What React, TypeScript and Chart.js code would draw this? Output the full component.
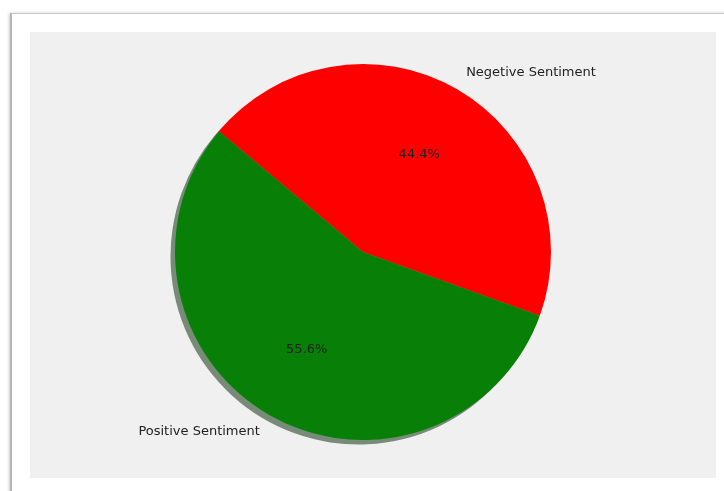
import React, { useEffect, useRef } from "react";
import { Chart, registerables } from "chart.js";

Chart.register(...registerables);

const labels = ["Negetive Sentiment", "Positive Sentiment"];
const values = [44.4, 55.6];
const colors = ["#ff0000", "#088008"];
const shadowColors = ["rgba(77,0,0,0.5)", "rgba(0,38,0,0.5)"];

const shadowPlugin = {
  id: "pieShadow",
  beforeDatasetsDraw(chart: any) {
    const ctx = chart.ctx;
    const meta = chart.getDatasetMeta(0);
    ctx.save();
    meta.data.forEach((arc: any, i: number) => {
      const { x, y, startAngle, endAngle, outerRadius } = arc.getProps(
        ["x", "y", "startAngle", "endAngle", "outerRadius"],
        true
      );
      ctx.beginPath();
      ctx.moveTo(x - 4.5, y + 4.5);
      ctx.arc(x - 4.5, y + 4.5, outerRadius, startAngle, endAngle);
      ctx.closePath();
      ctx.fillStyle = shadowColors[i];
      ctx.fill();
    });
    ctx.restore();
  },
};

const labelPlugin = {
  id: "pieLabels",
  afterDatasetsDraw(chart: any) {
    const ctx = chart.ctx;
    const meta = chart.getDatasetMeta(0);
    const total = values.reduce((a, b) => a + b, 0);
    ctx.save();
    ctx.font = "13px 'DejaVu Sans'";
    ctx.fillStyle = "#222222";
    ctx.textBaseline = "middle";
    meta.data.forEach((arc: any, i: number) => {
      const { x, y, startAngle, endAngle, outerRadius } = arc.getProps(
        ["x", "y", "startAngle", "endAngle", "outerRadius"],
        true
      );
      const mid = (startAngle + endAngle) / 2;
      const c = Math.cos(mid);
      const s = Math.sin(mid);
      const lx = x + c * outerRadius * 1.1;
      const ly = y + s * outerRadius * 1.1;
      ctx.textAlign = c >= 0 ? "left" : "right";
      ctx.fillText(labels[i], lx, ly);
      const px = x + c * outerRadius * 0.6;
      const py = y + s * outerRadius * 0.6;
      ctx.textAlign = "center";
      ctx.fillText(((values[i] / total) * 100).toFixed(1) + "%", px, py);
    });
    ctx.restore();
  },
};

export default function App() {
  const ref = useRef<HTMLCanvasElement>(null);
  useEffect(() => {
    if (!ref.current) return;
    const chart = new Chart(ref.current, {
      type: "pie",
      data: {
        labels,
        datasets: [
          {
            data: values,
            backgroundColor: colors,
            borderWidth: 0,
          },
        ],
      },
      options: {
        animation: false,
        responsive: false,
        rotation: -50,
        layout: { padding: { top: 32, bottom: 38, left: 145, right: 165 } },
        plugins: {
          legend: { display: false },
          tooltip: { enabled: false },
        },
      },
      plugins: [shadowPlugin, labelPlugin],
    });
    return () => chart.destroy();
  }, []);

  return (
    <div
      style={{
        position: "fixed",
        left: 0,
        top: 0,
        width: 724,
        height: 491,
        background: "#ffffff",
        overflow: "hidden",
      }}
    >
      <div
        style={{
          position: "absolute",
          left: 10,
          top: 13,
          width: 740,
          height: 500,
          borderTop: "1px solid #c8c8c8",
          borderLeft: "2px solid #b4b4b4",
          boxShadow: "-1px 0 3px rgba(0,0,0,0.2)",
          background: "#ffffff",
        }}
      />
      <div
        style={{
          position: "absolute",
          left: 30,
          top: 32,
          width: 686,
          height: 446,
          background: "#f0f0f0",
        }}
      >
        <canvas ref={ref} width={686} height={446} style={{ display: "block" }} />
      </div>
    </div>
  );
}
